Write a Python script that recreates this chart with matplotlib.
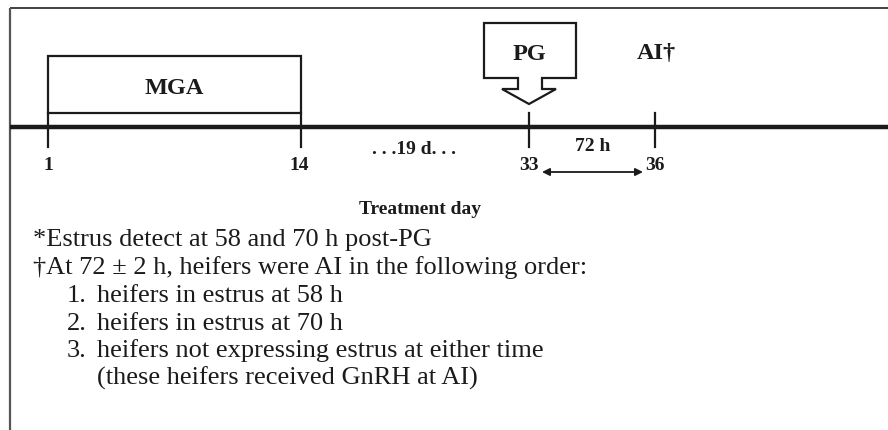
import matplotlib
matplotlib.use("Agg")
import matplotlib.pyplot as plt
from matplotlib.patches import Rectangle, Polygon

# ---- data ----
tick_days = ["1", "14", "33", "36"]
mga_label = "MGA"
pg_label = "PG"
ai_label = "AI\u2020"
gap_label = ". . .19 d. . ."
interval_label = "72 h"
axis_label = "Treatment day"
notes = [
    "*Estrus detect at 58 and 70 h post-PG",
    "\u2020At 72 \u00b1 2 h, heifers were AI in the following order:",
]
order_items = [
    "heifers in estrus at 58 h",
    "heifers in estrus at 70 h",
    "heifers not expressing estrus at either time",
]
order_extra = "(these heifers received GnRH at AI)"

# ---- layout (pixel coordinates of the schematic) ----
W, H = 888, 431
tick_x = [48, 301, 529, 655]
label_dx = [0, -2, 0, 0]
line_y = 128
serif = ["Liberation Serif", "DejaVu Serif"]
ink = "#1c1a1b"

fig = plt.figure(figsize=(W / 100, H / 100), dpi=100)
ax = fig.add_axes([0, 0, 1, 1])
ax.set_xlim(0, W)
ax.set_ylim(H, 0)
ax.axis("off")

# frame (top and left)
ax.plot([10, W], [8.5, 8.5], color="#333333", lw=1.3, solid_capstyle="butt")
ax.plot([10, 10], [8.5, H], color="#555555", lw=1.6, solid_capstyle="butt")

# timeline
ax.plot([10, W], [line_y, line_y], color=ink, lw=3.2, solid_capstyle="butt", zorder=3)

# ticks
for x in tick_x:
    ax.plot([x, x], [114, 148], color=ink, lw=1.6, zorder=3)

# MGA box
ax.add_patch(Rectangle((tick_x[0], 57), tick_x[1] - tick_x[0], 57, fill=False,
                       ec=ink, lw=1.6))
ax.text((tick_x[0] + tick_x[1]) / 2, 88, mga_label, ha="center", va="center",
        fontsize=17.5, fontweight="bold", family=serif, color=ink)

# PG arrow
cx = tick_x[2]
pg_poly = [(cx - 45, 24), (cx + 47, 24), (cx + 47, 79), (cx + 13, 79), (cx + 13, 90),
           (cx + 27, 90), (cx, 105), (cx - 27, 90), (cx - 11, 90), (cx - 11, 79),
           (cx - 45, 79)]
ax.add_patch(Polygon(pg_poly, closed=True, fill=False, ec=ink, lw=1.6,
                     joinstyle="miter"))
ax.text(cx, 54, pg_label, ha="center", va="center", fontsize=17.5,
        fontweight="bold", family=serif, color=ink)

# AI label
ax.text(tick_x[3] + 1, 54, ai_label, ha="center", va="center", fontsize=17.5,
        fontweight="bold", family=serif, color=ink)

# tick labels
for x, dx, lab in zip(tick_x, label_dx, tick_days):
    ax.text(x + dx, 166, lab, ha="center", va="center", fontsize=14,
            fontweight="bold", family=serif, color=ink)

ax.text(414, 150, gap_label, ha="center", va="center", fontsize=14,
        fontweight="bold", family=serif, color=ink)
ax.text(593, 147, interval_label, ha="center", va="center", fontsize=14,
        fontweight="bold", family=serif, color=ink)

# double arrow
ax.annotate("", xy=(643, 173), xytext=(542, 173),
            arrowprops=dict(arrowstyle="<|-|>", color=ink, lw=1.3,
                            mutation_scale=11, shrinkA=0, shrinkB=0))

ax.text(420, 210, axis_label, ha="center", va="center", fontsize=14,
        fontweight="bold", family=serif, color=ink)

# notes
fs = 19
ys = [240, 268, 296, 324, 351, 378]
ax.text(33, ys[0], notes[0], ha="left", va="center", fontsize=fs, family=serif, color=ink)
ax.text(33, ys[1], notes[1], ha="left", va="center", fontsize=fs, family=serif, color=ink)
for i, item in enumerate(order_items):
    ax.text(67, ys[2 + i], f"{i + 1}.", ha="left", va="center", fontsize=fs,
            family=serif, color=ink)
    ax.text(97, ys[2 + i], item, ha="left", va="center", fontsize=fs,
            family=serif, color=ink)
ax.text(97, ys[5], order_extra, ha="left", va="center", fontsize=fs,
        family=serif, color=ink)

fig.savefig("out.png", dpi=100)
